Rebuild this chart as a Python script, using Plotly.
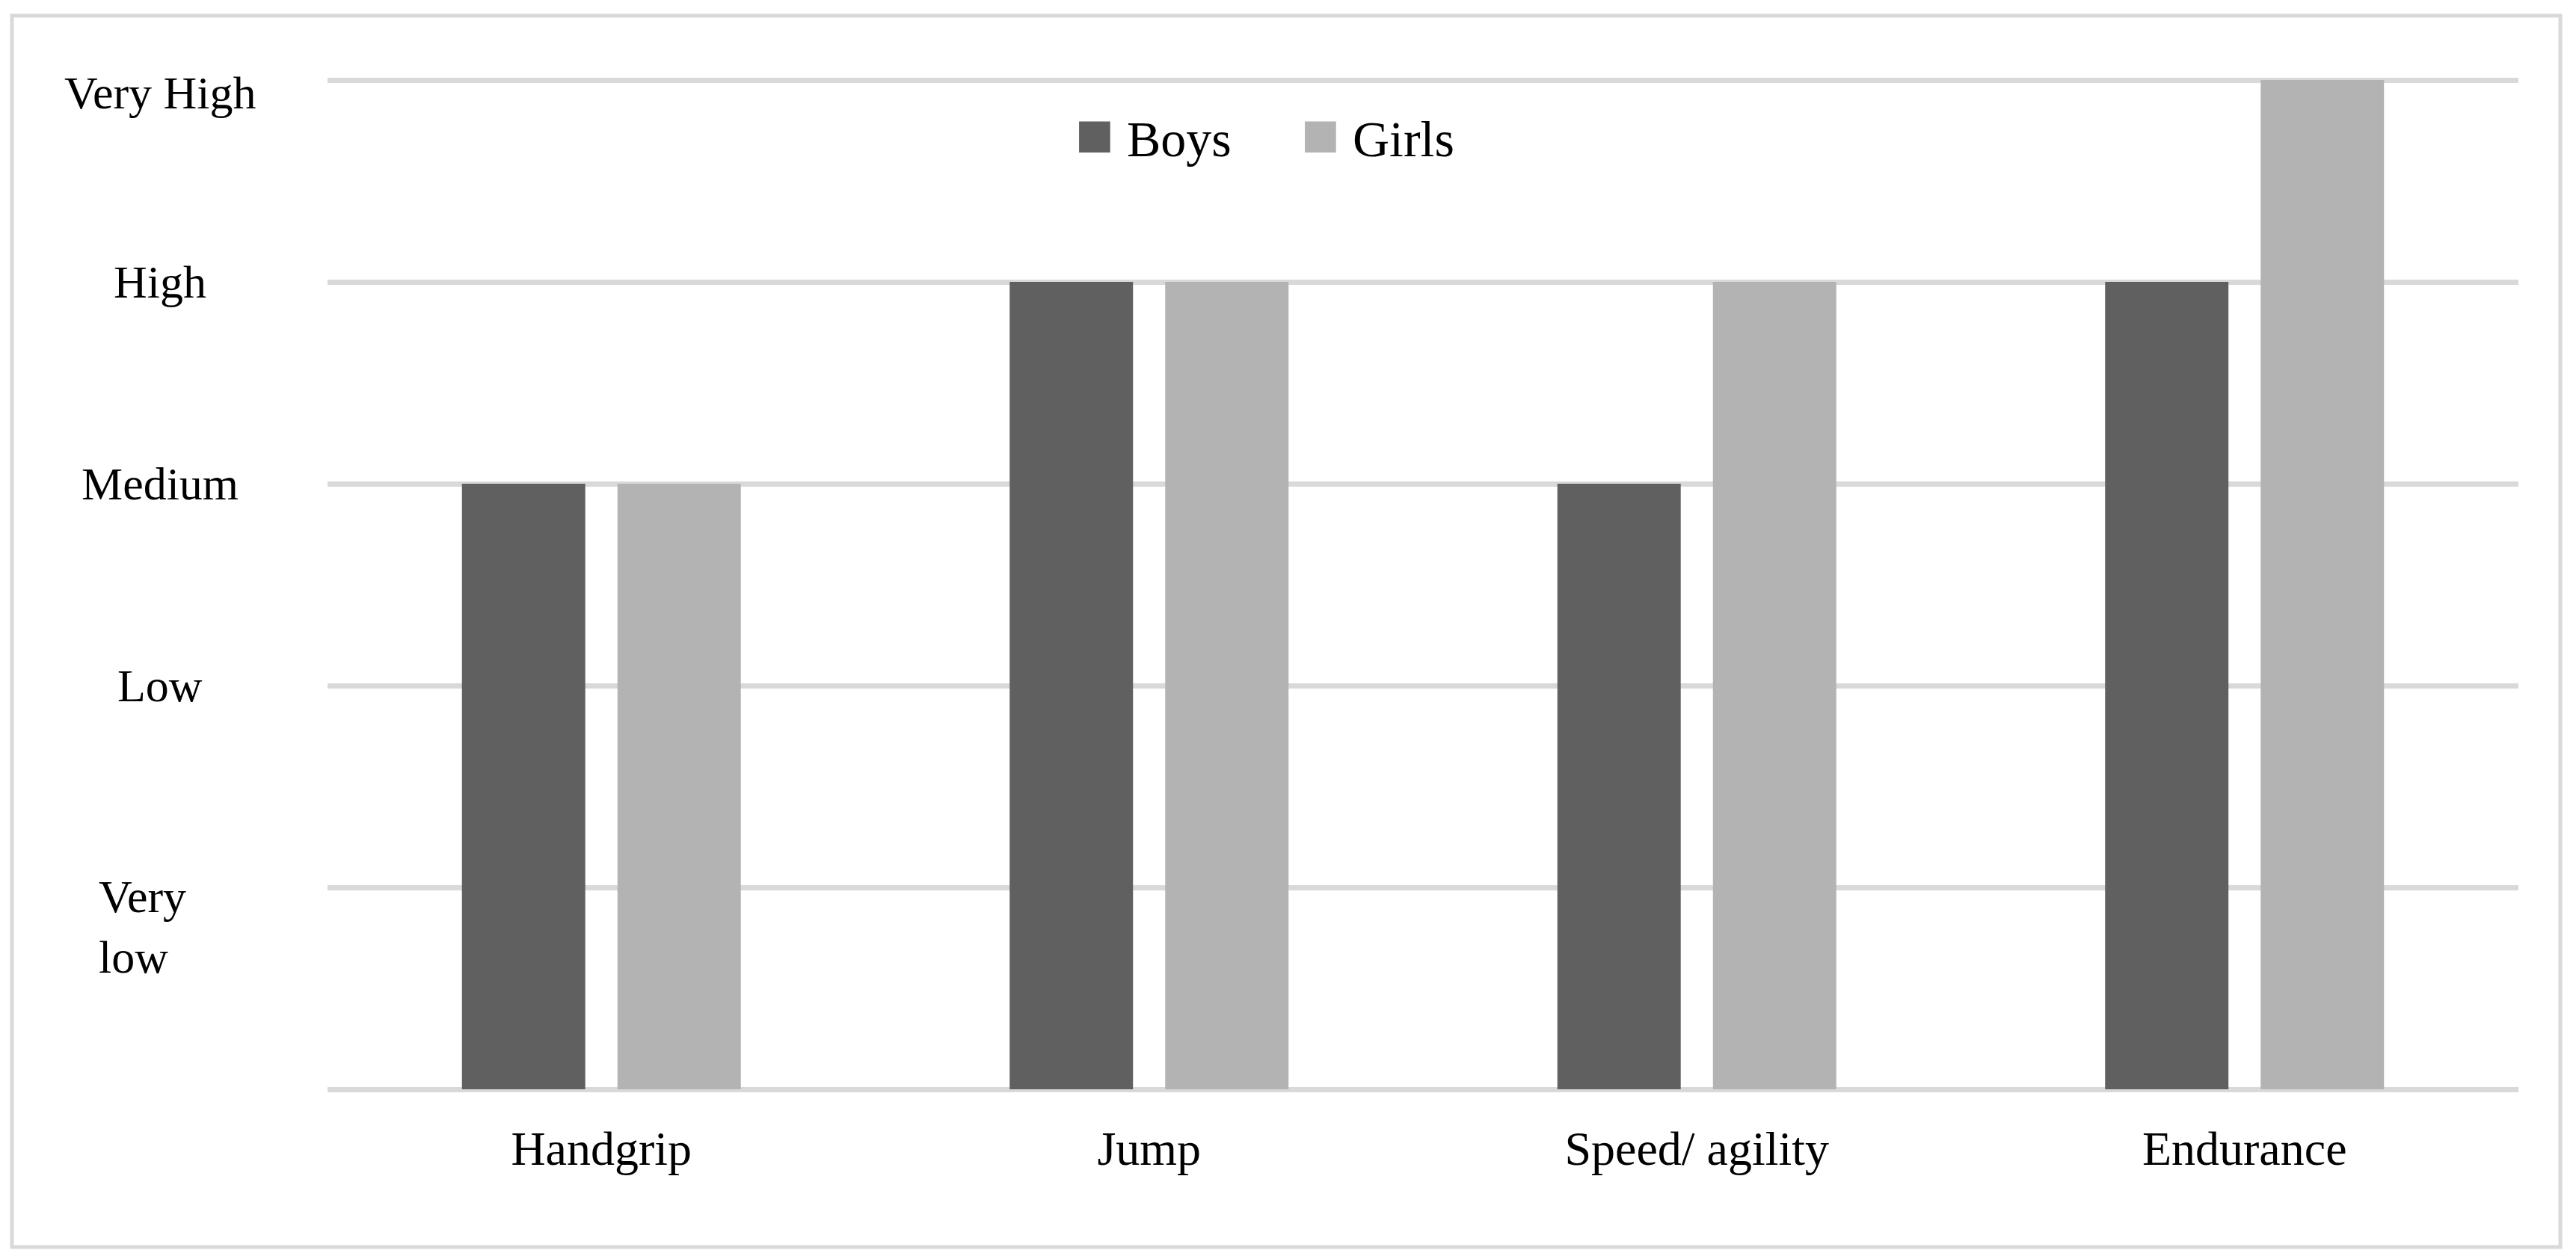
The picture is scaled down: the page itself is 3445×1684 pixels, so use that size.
import plotly.graph_objects as go

# categories and levels
tests = ["Handgrip", "Jump", "Speed/ agility", "Endurance"]
boys = [3, 4, 3, 4]
girls = [3, 4, 4, 5]
level_vals = [1, 2, 3, 4, 5]
level_names = ["Very<br>low", "Low", "Medium", "High", "Very High"]

series_names = ["Boys", "Girls"]
series_colors = ["#606060", "#b3b3b3"]

# page has an 8px body margin, so the figure is a bit smaller than the window
W, H = 3429, 1668
ML, MR, MT, MB = 430, 69, 90, 219
Y_TOP_PX = 99          # pixel row of the "Very High" gridline
FONT = "Liberation Serif, Times New Roman, serif"

plot_w = W - ML - MR
plot_h = H - MT - MB
unit_px = (H - MB - Y_TOP_PX) / max(level_vals)
y_max = max(level_vals) + (Y_TOP_PX - MT) / unit_px

fig = go.Figure()
for name, vals, col in zip(series_names, [boys, girls], series_colors):
    fig.add_trace(go.Bar(x=tests, y=vals, name=name, marker_color=col,
                         marker_line_width=0, showlegend=False))


def px_x(p):
    return (p - ML) / plot_w


def px_y(p):
    return (H - MB - p) / plot_h


# y labels, centred in the left margin like the original
annos = []
for v, lab in zip(level_vals, level_names):
    if "<br>" in lab:
        annos.append(dict(x=px_x(122), y=v, xref="paper", yref="y", text=lab,
                          xanchor="left", yanchor="middle", align="left", yshift=-52,
                          showarrow=False, font=dict(size=62, family=FONT, color="black")))
    else:
        annos.append(dict(x=px_x(206), y=v, xref="paper", yref="y", text=lab,
                          xanchor="center", yanchor="middle", showarrow=False,
                          yshift=-17 if v == max(level_vals) else 0,
                          font=dict(size=62, family=FONT, color="black")))

# legend drawn as text so the swatches get the original's size
for name, col, cx in zip(series_names, series_colors, [1534, 1834]):
    annos.append(dict(x=px_x(cx), y=px_y(172), xref="paper", yref="paper",
                      text=f"<span style='color:{col};font-size:86px'>■</span> {name}",
                      xanchor="center", yanchor="middle", showarrow=False,
                      font=dict(size=68, family=FONT, color="black")))

fig.update_layout(
    width=W, height=H,
    margin=dict(l=ML, r=MR, t=MT, b=MB),
    paper_bgcolor="white", plot_bgcolor="white",
    barmode="group", bargap=0.432, bargroupgap=0.207,
    font=dict(family=FONT, color="black"),
    annotations=annos,
    shapes=[dict(type="rect", xref="paper", yref="paper",
                 x0=px_x(8), x1=px_x(3416), y0=px_y(1660), y1=px_y(13),
                 line=dict(color="#d9d9d9", width=5), layer="below")],
)
fig.update_xaxes(showgrid=False, showline=False, ticks="",
                 tickfont=dict(size=64, family=FONT, color="black"),
                 ticklabelstandoff=36)
fig.update_yaxes(range=[0, y_max], tickvals=[0] + level_vals, showticklabels=False,
                 showgrid=True, gridcolor="#d9d9d9", gridwidth=7,
                 zeroline=True, zerolinecolor="#d9d9d9", zerolinewidth=7,
                 showline=False, ticks="")

fig.write_html("out.html")
